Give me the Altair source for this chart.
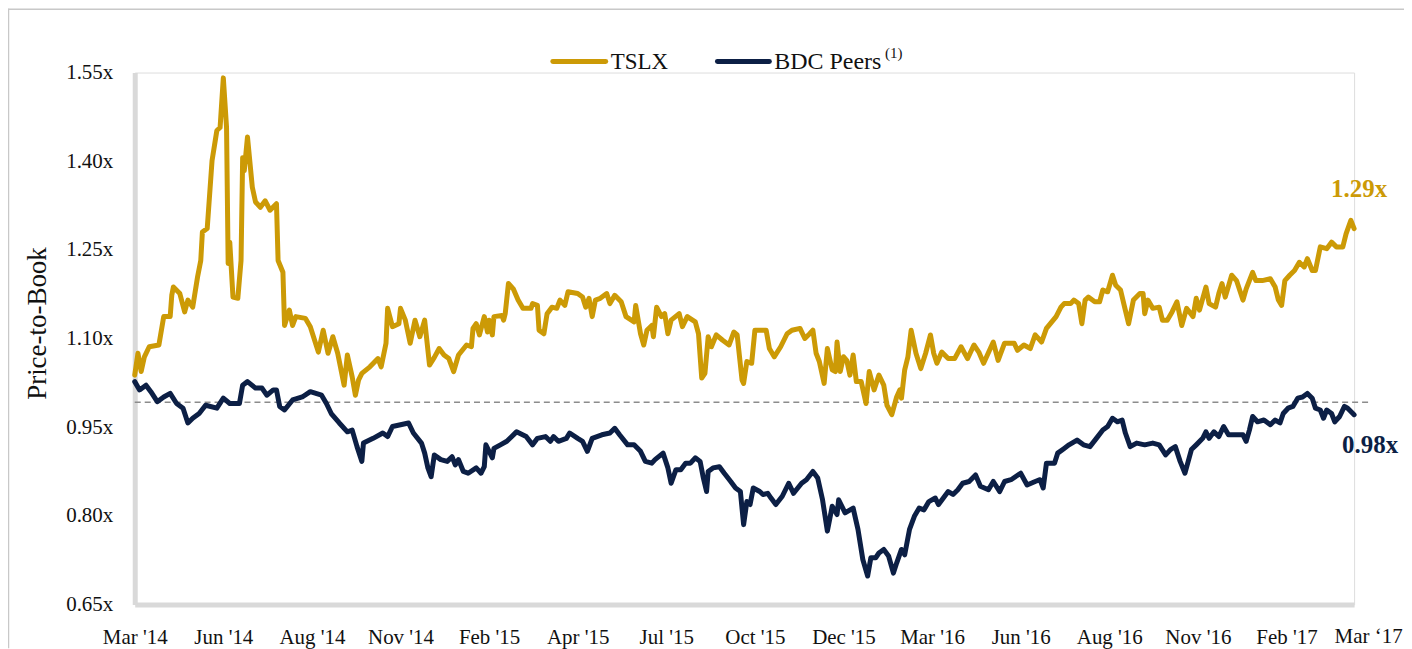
import json
import altair as alt
import pandas as pd

# ---------------- data (trading-day index since Mar '14, price-to-book multiple) ----------------
tslx_day = [0, 2, 4, 6, 9, 15, 18, 22, 23, 24, 28, 31, 33, 36, 39, 41, 42, 45, 48, 50, 51, 53, 55, 57, 58, 59,
            61, 64, 66, 67, 68, 70, 73, 75, 78, 81, 84, 88, 89, 92, 93, 96, 98, 100, 106, 109, 114, 117, 120,
            123, 126, 130, 132, 135, 137, 139, 141, 146, 151, 153, 156, 157, 160, 164, 165, 168, 171, 174, 177,
            180, 183, 186, 189, 192, 195, 198, 201, 206, 209, 210, 212, 214, 217, 219, 220, 222, 223, 228, 229,
            230, 232, 235, 238, 241, 246, 247, 250, 251, 254, 256, 259, 262, 264, 267, 269, 275, 278, 280, 282,
            284, 286, 289, 293, 295, 298, 302, 305, 310, 311, 314, 316, 318, 321, 322, 324, 327, 329, 331, 333,
            338, 340, 343, 348, 350, 352, 354, 356, 358, 361, 365, 369, 372, 374, 377, 378, 380, 383, 385, 390,
            392, 394, 397, 401, 405, 408, 413, 416, 419, 421, 423, 425, 428, 430, 433, 435, 436, 438, 440, 442,
            444, 446, 448, 451, 454, 456, 459, 462, 465, 467, 470, 473, 475, 476, 478, 480, 482, 485, 488, 491,
            494, 496, 498, 501, 505, 509, 513, 517, 521, 524, 527, 533, 536, 540, 546, 548, 552, 556, 559, 563,
            566, 572, 575, 577, 581, 583, 586, 588, 590, 592, 596, 599, 601, 604, 607, 609, 612, 614, 617, 620,
            624, 626, 627, 629, 632, 636, 638, 641, 644, 647, 650, 653, 657, 659, 661, 665, 667, 671, 673, 675,
            677, 681, 684, 688, 690, 694, 696, 700, 705, 708, 710, 712, 714, 717, 720, 723, 726, 728, 731, 733,
            736, 740, 743, 746, 750, 752, 755, 757]
tslx_val = [1.038, 1.075, 1.044, 1.069, 1.086, 1.089, 1.137, 1.137, 1.173, 1.187, 1.176, 1.145, 1.165, 1.153,
            1.204, 1.232, 1.280, 1.286, 1.401, 1.435, 1.452, 1.457, 1.541, 1.457, 1.227, 1.263, 1.170, 1.168,
            1.232, 1.406, 1.384, 1.441, 1.356, 1.331, 1.322, 1.333, 1.317, 1.328, 1.232, 1.212, 1.122, 1.148,
            1.122, 1.137, 1.134, 1.120, 1.077, 1.114, 1.075, 1.103, 1.075, 1.021, 1.072, 1.035, 1.004, 1.030,
            1.041, 1.052, 1.066, 1.052, 1.092, 1.151, 1.120, 1.125, 1.151, 1.131, 1.092, 1.131, 1.103, 1.131,
            1.055, 1.068, 1.083, 1.072, 1.066, 1.044, 1.072, 1.089, 1.086, 1.117, 1.125, 1.106, 1.137, 1.111,
            1.131, 1.106, 1.137, 1.139, 1.131, 1.142, 1.193, 1.184, 1.165, 1.151, 1.151, 1.159, 1.156, 1.114,
            1.108, 1.142, 1.153, 1.151, 1.165, 1.156, 1.179, 1.176, 1.170, 1.153, 1.168, 1.137, 1.165, 1.168,
            1.176, 1.159, 1.173, 1.162, 1.137, 1.128, 1.156, 1.108, 1.089, 1.114, 1.122, 1.103, 1.153, 1.137,
            1.142, 1.108, 1.131, 1.142, 1.120, 1.137, 1.128, 1.108, 1.033, 1.041, 1.103, 1.086, 1.106, 1.097,
            1.089, 1.111, 1.106, 1.030, 1.024, 1.061, 1.058, 1.114, 1.114, 1.114, 1.083, 1.069, 1.086, 1.108,
            1.114, 1.117, 1.100, 1.108, 1.114, 1.075, 1.061, 1.024, 1.083, 1.047, 1.044, 1.094, 1.044, 1.069,
            1.063, 1.038, 1.072, 1.027, 1.027, 0.990, 1.044, 1.013, 1.038, 1.021, 0.987, 0.971, 1.001, 1.013,
            0.999, 1.047, 1.069, 1.114, 1.075, 1.049, 1.075, 1.106, 1.075, 1.058, 1.077, 1.066, 1.066, 1.086,
            1.066, 1.089, 1.077, 1.058, 1.094, 1.063, 1.092, 1.092, 1.080, 1.089, 1.083, 1.106, 1.094, 1.117,
            1.137, 1.153, 1.159, 1.159, 1.165, 1.159, 1.125, 1.165, 1.170, 1.162, 1.162, 1.182, 1.179, 1.207,
            1.190, 1.182, 1.159, 1.125, 1.165, 1.176, 1.176, 1.142, 1.165, 1.151, 1.153, 1.131, 1.131, 1.145,
            1.162, 1.122, 1.151, 1.137, 1.168, 1.148, 1.187, 1.159, 1.153, 1.176, 1.193, 1.170, 1.207, 1.198,
            1.165, 1.184, 1.212, 1.198, 1.198, 1.201, 1.187, 1.165, 1.156, 1.198, 1.207, 1.215, 1.229, 1.221,
            1.235, 1.215, 1.215, 1.255, 1.252, 1.263, 1.255, 1.255, 1.277, 1.300, 1.286]

bdc_day = [0, 3, 7, 10, 14, 18, 22, 26, 30, 33, 36, 40, 44, 51, 55, 59, 65, 67, 70, 75, 79, 82, 86, 88, 90, 93,
           98, 104, 109, 116, 119, 122, 127, 132, 135, 138, 141, 142, 148, 154, 157, 160, 170, 173, 178, 180,
           182, 184, 186, 190, 194, 197, 199, 201, 204, 207, 212, 215, 217, 218, 222, 223, 227, 231, 237, 243,
           247, 250, 255, 258, 260, 263, 268, 270, 275, 278, 281, 284, 290, 295, 298, 301, 306, 310, 314, 317,
           321, 323, 328, 331, 333, 336, 339, 342, 345, 348, 351, 353, 355, 356, 359, 363, 366, 370, 373, 376,
           378, 380, 382, 384, 388, 390, 393, 395, 398, 402, 406, 409, 414, 417, 421, 424, 427, 430, 433, 436,
           437, 441, 446, 449, 452, 455, 457, 460, 462, 465, 468, 471, 473, 476, 478, 481, 484, 487, 490, 493,
           497, 499, 502, 505, 508, 511, 514, 518, 522, 525, 530, 533, 537, 540, 544, 550, 554, 559, 562, 564,
           566, 571, 573, 577, 580, 585, 589, 593, 597, 601, 604, 607, 610, 613, 615, 618, 622, 627, 632, 636,
           640, 643, 646, 649, 652, 656, 659, 663, 665, 667, 670, 673, 676, 679, 683, 688, 690, 692, 694, 697,
           701, 705, 708, 711, 713, 716, 719, 722, 725, 728, 731, 733, 736, 738, 740, 743, 745, 748, 751, 753,
           757]
bdc_val = [1.027, 1.013, 1.021, 1.010, 0.993, 1.001, 1.007, 0.990, 0.982, 0.957, 0.965, 0.973, 0.987, 0.982,
           0.999, 0.990, 0.990, 1.021, 1.027, 1.016, 1.016, 1.004, 1.013, 1.013, 0.985, 0.979, 0.996, 1.001,
           1.010, 1.004, 0.990, 0.973, 0.957, 0.942, 0.945, 0.917, 0.892, 0.923, 0.931, 0.940, 0.934, 0.951,
           0.957, 0.940, 0.923, 0.906, 0.881, 0.866, 0.903, 0.895, 0.892, 0.900, 0.886, 0.895, 0.875, 0.872,
           0.881, 0.872, 0.883, 0.920, 0.898, 0.914, 0.920, 0.926, 0.942, 0.934, 0.920, 0.931, 0.934, 0.926,
           0.934, 0.926, 0.931, 0.940, 0.931, 0.926, 0.909, 0.931, 0.937, 0.940, 0.948, 0.937, 0.920, 0.920,
           0.909, 0.892, 0.889, 0.895, 0.906, 0.881, 0.855, 0.878, 0.878, 0.889, 0.889, 0.898, 0.892, 0.864,
           0.841, 0.875, 0.881, 0.883, 0.872, 0.858, 0.847, 0.841, 0.785, 0.824, 0.819, 0.847, 0.841, 0.836,
           0.838, 0.830, 0.819, 0.833, 0.855, 0.838, 0.855, 0.861, 0.875, 0.864, 0.827, 0.774, 0.816, 0.802,
           0.827, 0.805, 0.813, 0.777, 0.726, 0.698, 0.729, 0.729, 0.737, 0.743, 0.732, 0.703, 0.720, 0.743,
           0.734, 0.777, 0.799, 0.813, 0.810, 0.824, 0.830, 0.819, 0.830, 0.841, 0.836, 0.844, 0.855, 0.858,
           0.869, 0.850, 0.844, 0.858, 0.841, 0.858, 0.861, 0.872, 0.852, 0.858, 0.861, 0.847, 0.889, 0.889,
           0.906, 0.914, 0.920, 0.928, 0.920, 0.917, 0.931, 0.945, 0.951, 0.965, 0.959, 0.962, 0.940, 0.917,
           0.923, 0.920, 0.923, 0.920, 0.903, 0.912, 0.917, 0.892, 0.872, 0.912, 0.920, 0.931, 0.942, 0.931,
           0.942, 0.934, 0.951, 0.937, 0.937, 0.937, 0.926, 0.945, 0.968, 0.959, 0.962, 0.954, 0.962, 0.957,
           0.973, 0.982, 0.985, 0.999, 1.001, 1.007, 0.999, 0.982, 0.979, 0.965, 0.979, 0.973, 0.959, 0.968,
           0.985, 0.982, 0.971]

series_names = ["TSLX", "BDC Peers"]
tick_days = [0, 55, 110, 165, 220, 275, 330, 385, 440, 495, 550, 605, 660, 715]
tick_labels = ["Mar '14", "Jun '14", "Aug '14", "Nov '14", "Feb '15", "Apr '15", "Jul '15",
               "Oct '15", "Dec '15", "Mar '16", "Jun '16", "Aug '16", "Nov '16", "Feb '17"]
last_label_day = [766]
last_label = ["Mar \u201817"]
y_ticks = [0.65, 0.80, 0.95, 1.10, 1.25, 1.40, 1.55]
ref_level = [0.992]
ref_span = [0, 768]
end_labels = ["1.29x", "0.98x"]
end_values = [1.29, 0.98]
end_day = [757, 757]

GOLD = "#CC9A06"
NAVY = "#0C1F45"
FONT = "Liberation Serif"
W, H = 1222, 533

# ---------------- tables ----------------
df = pd.concat([
    pd.DataFrame({"day": tslx_day, "value": tslx_val, "series": series_names[0]}),
    pd.DataFrame({"day": bdc_day, "value": bdc_val, "series": series_names[1]}),
], ignore_index=True)

xscale = alt.Scale(domain=[0, 757], nice=False, zero=False)
yscale = alt.Scale(domain=[0.65, 1.55], nice=False, zero=False)

label_expr = json.dumps(tick_labels) + "[round(datum.value / 55)]"

ref = alt.Chart(pd.DataFrame({"day": [ref_span[0]], "day2": [ref_span[1]], "value": ref_level})).mark_rule(
    color="#8c8c8c", strokeDash=[6, 4], strokeWidth=1.6
).encode(
    x=alt.X("day:Q", scale=xscale, title=None,
            axis=alt.Axis(values=tick_days, labelExpr=label_expr, ticks=False, grid=False,
                          domainColor="#d9d9d9", domainWidth=5, labelFont=FONT, labelFontSize=21,
                          labelColor="#111111", labelBaseline="alphabetic", labelPadding=39,
                          labelFlush=False, labelOverlap=False)),
    x2="day2:Q",
    y=alt.Y("value:Q", scale=yscale, title="Price-to-Book",
            axis=alt.Axis(values=y_ticks, labelExpr="format(datum.value, '.2f') + 'x'", ticks=False,
                          grid=False, domainColor="#d9d9d9", domainWidth=5, labelFont=FONT,
                          labelFontSize=21, labelColor="#111111", labelPadding=22, labelBaseline="middle",
                          titleFont=FONT, titleFontSize=27, titleFontWeight="normal", titleColor="#111111",
                          titleAngle=-90, titleX=-89, titleY=251, titleAlign="center",
                          titleBaseline="alphabetic")),
)

lines = alt.Chart(df).mark_line(strokeWidth=5, strokeJoin="round", strokeCap="round").encode(
    x=alt.X("day:Q", scale=xscale),
    y=alt.Y("value:Q", scale=yscale),
    color=alt.Color("series:N", scale=alt.Scale(domain=series_names, range=[GOLD, NAVY]), legend=None),
    detail="series:N",
)

end_df = pd.DataFrame({"day": end_day, "value": end_values, "label": end_labels})
end_gold = alt.Chart(end_df.iloc[[0]]).mark_text(
    font=FONT, fontSize=25, fontWeight="bold", color=GOLD, align="center", baseline="alphabetic",
    dx=5, dy=-29
).encode(x=alt.X("day:Q", scale=xscale), y=alt.Y("value:Q", scale=yscale), text="label:N")
end_navy = alt.Chart(end_df.iloc[[1]]).mark_text(
    font=FONT, fontSize=25, fontWeight="bold", color=NAVY, align="center", baseline="alphabetic",
    dx=16, dy=44
).encode(x=alt.X("day:Q", scale=xscale), y=alt.Y("value:Q", scale=yscale), text="label:N")

last_tick = alt.Chart(pd.DataFrame({"day": last_label_day, "label": last_label})).mark_text(
    font=FONT, fontSize=21, color="#111111", align="center", baseline="alphabetic"
).encode(x=alt.X("day:Q", scale=xscale), y=alt.value(H + 39), text="label:N")

# ---------------- manual legend ----------------
leg_df = pd.DataFrame({"series": series_names})
leg_gold = alt.Chart(leg_df.iloc[[0]]).mark_rule(color=GOLD, strokeWidth=5, strokeCap="round").encode(
    x=alt.value(419), x2=alt.value(472), y=alt.value(-11))
leg_navy = alt.Chart(leg_df.iloc[[1]]).mark_rule(color=NAVY, strokeWidth=5, strokeCap="round").encode(
    x=alt.value(584), x2=alt.value(636), y=alt.value(-11))
leg_t1 = alt.Chart(leg_df.iloc[[0]]).mark_text(
    font=FONT, fontSize=23, color="#111111", align="left", baseline="alphabetic"
).encode(x=alt.value(477), y=alt.value(-4), text="series:N")
leg_t2 = alt.Chart(leg_df.iloc[[1]]).mark_text(
    font=FONT, fontSize=24, color="#111111", align="left", baseline="alphabetic"
).encode(x=alt.value(641), y=alt.value(-4), text="series:N")
leg_sup = alt.Chart(pd.DataFrame({"t": ["(1)"]})).mark_text(
    font=FONT, fontSize=15, color="#111111", align="left", baseline="alphabetic"
).encode(x=alt.value(752), y=alt.value(-15), text="t:N")

# ---------------- slide frame ----------------
frame_top = alt.Chart(pd.DataFrame({"t": ["f"]})).mark_rule(color="#c8c8c8", strokeWidth=1.5).encode(
    x=alt.value(-127), x2=alt.value(W + 50), y=alt.value(-63.5))
frame_left = alt.Chart(pd.DataFrame({"t": ["f"]})).mark_rule(color="#c8c8c8", strokeWidth=1.5).encode(
    x=alt.value(-126.5), y=alt.value(-64), y2=alt.value(H + 44))

chart = alt.layer(
    ref, lines, end_gold, end_navy, last_tick,
    leg_gold, leg_navy, leg_t1, leg_t2, leg_sup, frame_top, frame_left
).properties(
    width=W, height=H,
    autosize=alt.AutoSizeParams(type="none"),
    padding={"left": 127, "top": 64, "right": 50, "bottom": 44},
).configure_view(stroke=None).configure(background="white")

chart.save("out.html", embed_options={"renderer": "svg", "actions": False})
